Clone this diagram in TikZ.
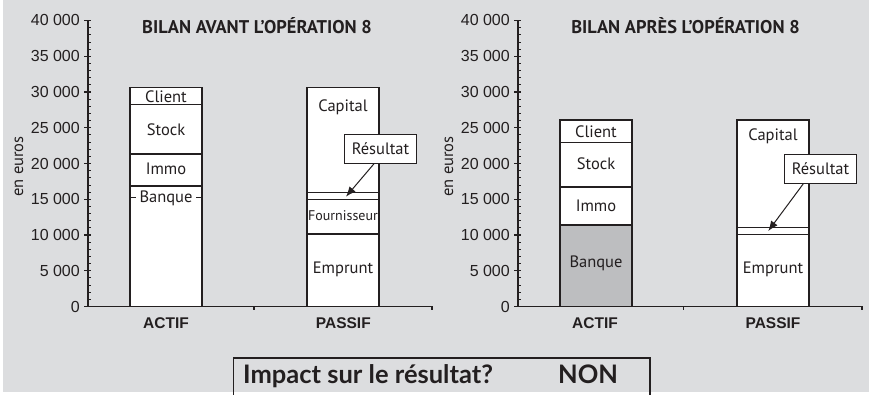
\documentclass[tikz,border=0pt]{standalone}
\usepackage{fontspec}
\setmainfont{PT Sans}
\newfontfamily\arialfont{Liberation Sans}
\newfontfamily\latofont{Lato}
\usetikzlibrary{arrows.meta}

\definecolor{bggrey}{HTML}{DCDDDF}
\definecolor{bankgrey}{HTML}{BDBEC0}
\definecolor{ink}{HTML}{231F20}

\tikzset{
  bar/.style={draw=ink, fill=white, line width=1.2pt},
  axis/.style={draw=ink, line width=1.1pt},
  segtext/.style={font=\fontsize{16.5}{16.5}\selectfont, text=ink, inner sep=0pt},
  ticktext/.style={font=\arialfont\fontsize{16}{16}\selectfont, text=ink, anchor=east, inner sep=0pt},
  cattext/.style={font=\arialfont\bfseries\fontsize{15.5}{15.5}\selectfont, text=ink, inner sep=0pt},
  titletext/.style={font=\bfseries\fontsize{18.4}{18.4}\selectfont, text=ink, inner sep=0pt},
  resbox/.style={draw=ink, fill=white, line width=1pt, minimum width=72pt, minimum height=29pt,
    inner sep=0pt, font=\fontsize{16.5}{16.5}\selectfont, text=ink},
  resarrow/.style={draw=ink, line width=1pt, -{Latex[length=10pt,width=8pt]}},
  asktext/.style={font=\latofont\bfseries\fontsize{25.5}{25.5}\selectfont, text=ink, anchor=base west, inner sep=0pt},
}

\begin{document}
\begin{tikzpicture}[x=1pt, y=1pt]
  \fill[white] (0,0) rectangle (869,395);
  \fill[bggrey] (2.5,2.5) rectangle (869,395);
  \useasboundingbox (0,0) rectangle (869,395);

  % bilan avant
  \begin{scope}[y=7.15pt, shift={(88pt,88.5pt)}]
    \draw[bar] (42,0) rectangle (114,16.85);
    \draw[bar] (42,16.85) rectangle (114,21.33);
    \draw[bar] (42,21.33) rectangle (114,28.28);
    \draw[bar] (42,28.28) rectangle (114,30.66);
    \draw[ink, line width=1pt] (42,15.2) -- (114,15.2);
    \draw[bar] (219,0) rectangle (291,10.14);
    \draw[bar] (219,10.14) rectangle (291,14.95);
    \draw[bar] (219,14.95) rectangle (291,15.97);
    \draw[bar] (219,15.97) rectangle (291,30.66);
    \draw
      (78,29.34) node[segtext] (clientA){Client}
      (78,24.78) node[segtext] (stockA){Stock}
      (78,19.19) node[segtext] (immoA){Immo}
      (78,15.2) node[segtext, fill=white, inner xsep=4pt, inner ysep=2pt] (banqueA){Banque}
      (255,27.8) node[segtext] (capitalA){Capital}
      (255,12.75) node[segtext, font=\fontsize{14}{14}\selectfont] (fournA){Fournisseur}
      (255,5.17) node[segtext] (empruntA){Emprunt};
    \node[resbox] (resA) at (292.5,22.06) {Résultat};
    \coordinate (resendA) at (258,15.36);
    \draw[resarrow] ([xshift=-6.5pt]resA.south) -- (resendA);
    % axes
    \draw[axis] (0,0) -- (0,40);
    \draw[axis] (0,0) -- (344,0);
    \draw[axis] (166,0) -- ++(0,-4pt);
    \draw[axis] (344,0) -- ++(0,-4pt);
    \foreach \v in {1,...,39}
      \draw[ink, line width=0.8pt] (0,\v) -- (3,\v);
    \foreach \v/\t in {0/0, 5/5 000, 10/10 000, 15/15 000, 20/20 000, 25/25 000, 30/30 000, 35/35 000, 40/40 000} {
      \draw[axis] (-4,\v) -- (3,\v);
      \node[ticktext] (tickA\v) at (-8,\v) {\t};
    }
    \node[cattext] (actifA) at (78,-2.35) {ACTIF};
    \node[cattext] (passifA) at (255.3,-2.35) {PASSIF};
    \node[segtext, rotate=90] (eurosA) at (-69,19.58) {en euros};
    \node[titletext] (titleA) at (169,39.3) {BILAN AVANT L’OPÉRATION 8};
  \end{scope}

  % bilan apres
  \begin{scope}[y=7.15pt, shift={(518pt,88.5pt)}]
    \draw[bar, fill=bankgrey] (42,0) rectangle (114,11.4);
    \draw[bar] (42,11.4) rectangle (114,16.71);
    \draw[bar] (42,16.71) rectangle (114,22.97);
    \draw[bar] (42,22.97) rectangle (114,26.08);
    \draw[bar] (219,0) rectangle (291,10.1);
    \draw[bar] (219,10.1) rectangle (291,11.02);
    \draw[bar] (219,11.02) rectangle (291,26.08);
    \draw
      (78,24.45) node[segtext] (clientB){Client}
      (78,20.03) node[segtext] (stockB){Stock}
      (78,14.1) node[segtext] (immoB){Immo}
      (78,6.04) node[segtext] (banqueB){Banque}
      (255,23.85) node[segtext] (capitalB){Capital}
      (255,5.2) node[segtext] (empruntB){Emprunt};
    \node[resbox] (resB) at (302.5,19.26) {Résultat};
    \coordinate (resendB) at (250.3,10.56);
    \draw[resarrow] ([xshift=-17.2pt]resB.south) -- (resendB);
    % axes
    \draw[axis] (0,0) -- (0,40);
    \draw[axis] (0,0) -- (344,0);
    \draw[axis] (165.3,0) -- ++(0,-4pt);
    \draw[axis] (344,0) -- ++(0,-4pt);
    \foreach \v in {1,...,39}
      \draw[ink, line width=0.8pt] (0,\v) -- (3,\v);
    \foreach \v/\t in {0/0, 5/5 000, 10/10 000, 15/15 000, 20/20 000, 25/25 000, 30/30 000, 35/35 000, 40/40 000} {
      \draw[axis] (-4,\v) -- (3,\v);
      \node[ticktext] (tickB\v) at (-8,\v) {\t};
    }
    \node[cattext] (actifB) at (77,-2.35) {ACTIF};
    \node[cattext] (passifB) at (255,-2.35) {PASSIF};
    \node[segtext, rotate=90] (eurosB) at (-69,19.58) {en euros};
    \node[titletext] (titleB) at (167.5,39.3) {BILAN APRÈS L’OPÉRATION 8};
  \end{scope}

  % question
  \draw[ink, line width=1.3pt] (233.3,-5) -- (233.3,37) -- (650,37) -- (650,-5);
  \node[asktext] (impact) at (243,11.7) {Impact sur le résultat?};
  \node[asktext] (reponse) at (558,11.7) {NON};
\end{tikzpicture}
\end{document}
